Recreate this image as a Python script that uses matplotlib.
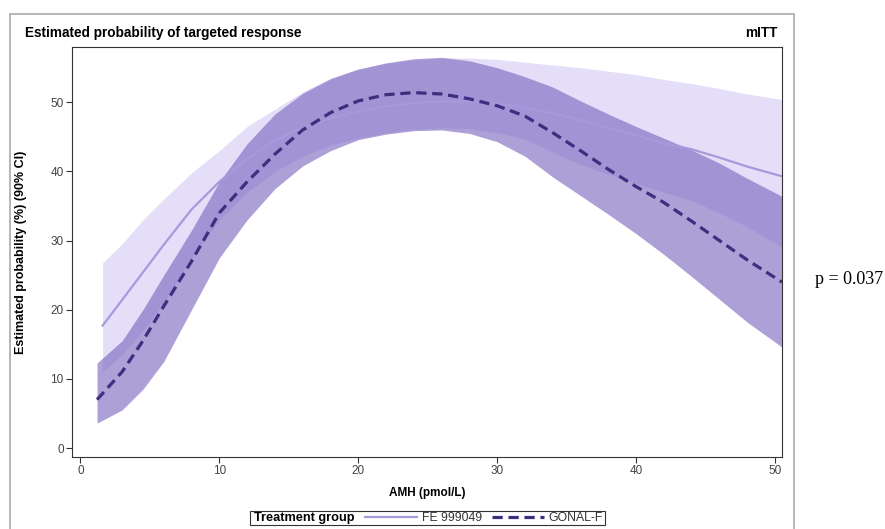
import matplotlib
matplotlib.use("Agg")
from matplotlib import pyplot as plt
from matplotlib.lines import Line2D
from matplotlib.patches import Rectangle

plt.rcParams["font.family"] = ["Liberation Sans", "DejaVu Sans"]

# AMH (pmol/L) grid for each treatment group
amh_gonal = [1.2, 3, 4.5, 6, 8, 10, 12, 14, 16, 18, 20, 22, 24, 26, 28, 30,
             32, 34, 36, 38, 40, 42, 44, 46, 48, 50.5]
amh_fe = [1.6, 3, 4.5, 6, 8, 10, 12, 14, 16, 18, 20, 22, 24, 26, 28, 30,
          32, 34, 36, 38, 40, 42, 44, 46, 48, 50.5]

# GONAL-F estimate and 90% CI
gonal_est = [7.0, 11.0, 15.5, 20.5, 27, 34, 38.5, 42.5, 46, 48.5, 50.2, 51.1, 51.4,
             51.2, 50.5, 49.5, 48, 45.6, 43, 40.3, 37.8, 35.5, 32.8, 30, 27.2, 24]
gonal_hi = [12.3, 15.5, 20, 25, 31.5, 38.5, 44, 48.3, 51.3, 53.4, 54.8, 55.7, 56.3,
            56.5, 56, 55, 53.7, 52.2, 50.2, 48.3, 46.5, 44.8, 43.1, 41.2, 39, 36.4]
gonal_lo = [3.6, 5.5, 8.5, 12.5, 20, 27.5, 33, 37.5, 40.8, 43, 44.6, 45.4, 45.9,
            46, 45.5, 44.3, 42.2, 39.2, 36.5, 33.8, 31, 28, 24.8, 21.5, 18.2, 14.6]

# FE 999049 estimate and 90% CI
fe_est = [17.7, 21.4, 25.4, 29.4, 34.5, 38.5, 41.8, 44.5, 46.3, 47.7, 48.7, 49.4, 49.9,
          50.1, 50.1, 49.8, 49.2, 48.4, 47.4, 46.3, 45.2, 44.1, 43.2, 42, 40.7, 39.3]
fe_hi = [26.8, 29.5, 33, 36, 39.8, 43, 46.5, 49, 51.5, 53.5, 54.8, 55.6, 56.1,
         56.4, 56.4, 56.2, 55.8, 55.4, 55, 54.5, 54, 53.3, 52.7, 52, 51.2, 50.4]
fe_lo = [11, 13.5, 17, 21, 27.5, 33, 37, 40, 42.2, 43.8, 44.8, 45.6, 46.1,
         46.3, 46.2, 45.6, 44.7, 42.8, 41, 39.6, 38.3, 37, 35.8, 34, 32, 29.1]

ticks = [0, 10, 20, 30, 40, 50]

fig = plt.figure(figsize=(8.85, 5.29), dpi=100)
ax = fig.add_axes([0.0814, 0.1361, 0.8022, 0.7751])

ax.fill_between(amh_fe, fe_lo, fe_hi, color="#c4b6f0", alpha=0.45, lw=0)
ax.fill_between(amh_gonal, gonal_lo, gonal_hi, color="#7561bd", alpha=0.6, lw=0)
ax.plot(amh_fe, fe_est, color="#a898dc", lw=1.6)
ax.plot(amh_gonal, gonal_est, color="#3b2f80", lw=2.3, dashes=(3.2, 1.8))

ax.set_xlim(-0.6, 50.5)
ax.set_ylim(-1.3, 58)
ax.set_xticks(ticks)
ax.set_yticks(ticks)
ax.tick_params(labelsize=8.5, colors="#333333", labelcolor="#444444",
               length=4, width=0.8, pad=2)
for s in ax.spines.values():
    s.set_color("#333333")
    s.set_linewidth(0.8)
ax.set_xlabel("AMH (pmol/L)", fontsize=8.5, fontweight="bold")
ax.xaxis.set_label_coords(0.5, -0.072)
ax.set_ylabel("Estimated probability (%) (90% CI)", fontsize=9, fontweight="bold")
ax.yaxis.set_label_coords(-0.063, 0.5)

# outer frame, title and group label
fig.patches.append(Rectangle((10 / 885, -0.01), 784 / 885, 1 - 14 / 529 + 0.01,
                             transform=fig.transFigure, fill=False,
                             edgecolor="#aaaaaa", lw=1.2))
fig.text(25 / 885, 1 - 33 / 529, "Estimated probability of targeted response",
         fontsize=9.8, fontweight="bold", va="center")
fig.text(778 / 885, 1 - 33 / 529, "mITT", fontsize=9.8, fontweight="bold",
         va="center", ha="right")

# legend box
fig.patches.append(Rectangle((250 / 885, 1 - 525 / 529), 355 / 885, 14 / 529,
                             transform=fig.transFigure, fill=False,
                             edgecolor="#333333", lw=0.8))
fig.text(254 / 885, 1 - 518 / 529, "Treatment group", fontsize=9.2,
         fontweight="bold", va="center")
handles = [Line2D([], [], color="#a898dc", lw=1.6),
           Line2D([], [], color="#3b2f80", lw=2.3, dashes=(3.2, 1.8))]
fig.legend(handles, ["FE 999049", "GONAL-F"], ncol=2, frameon=False,
           loc="center left", bbox_to_anchor=(365 / 885, 1 - 518 / 529),
           fontsize=8.8, handlelength=4.25, handletextpad=0.4, columnspacing=0.8,
           borderpad=0, borderaxespad=0, labelcolor="#333333")

fig.text(815 / 885, 1 - 280 / 529, "p = 0.037", fontsize=13,
         family=["Liberation Serif", "DejaVu Serif"], va="center")

fig.savefig("out.png", dpi=100)
